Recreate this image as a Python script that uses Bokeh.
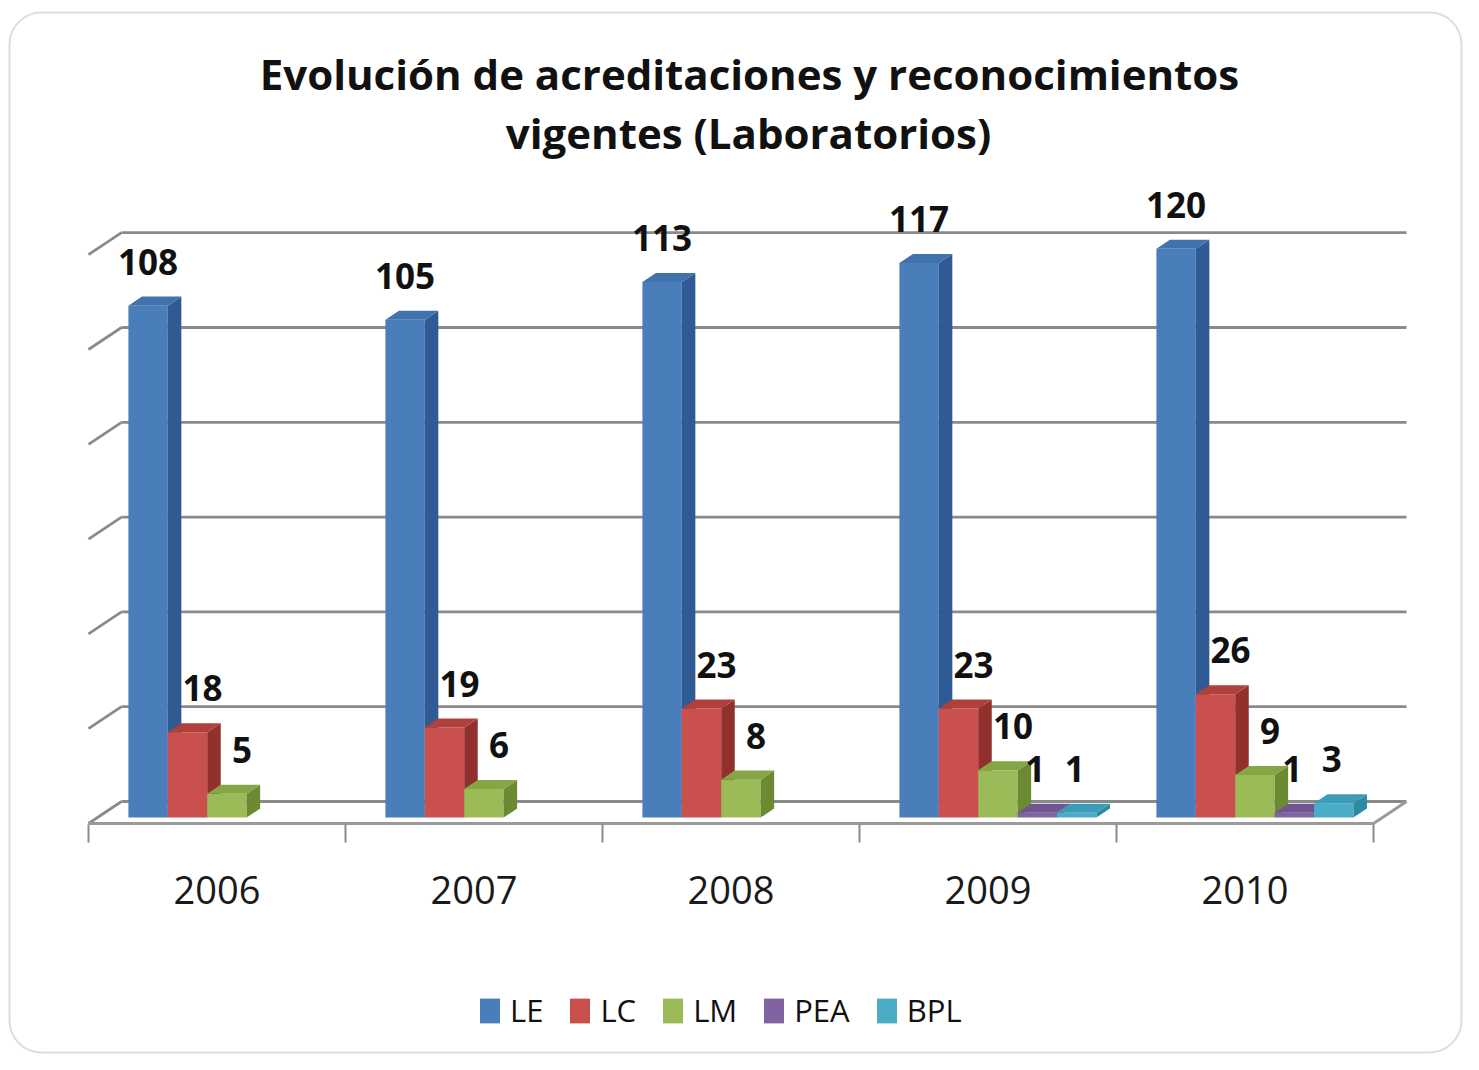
from bokeh.plotting import figure
from bokeh.models import ColumnDataSource, Range1d, Label, Legend, LegendItem, BoxAnnotation
from bokeh.core.properties import value
from bokeh.embed import file_html
from bokeh.resources import INLINE

# ---------------- data ----------------
years = ["2006", "2007", "2008", "2009", "2010"]
series_names = ["LE", "LC", "LM", "PEA", "BPL"]
le_values = [108, 105, 113, 117, 120]
lc_values = [18, 19, 23, 23, 26]
lm_values = [5, 6, 8, 10, 9]
pea_values = [0, 0, 0, 1, 1]
bpl_values = [0, 0, 0, 1, 3]
grid_values = [0, 20, 40, 60, 80, 100, 120]
title_lines = ["Evolución de acreditaciones y reconocimientos",
               "vigentes (Laboratorios)"]

all_values = [le_values, lc_values, lm_values, pea_values, bpl_values]

# ---------------- style ----------------
front_colors = ["#4a7ebb", "#c9504c", "#9bbb59", "#8064a2", "#4bacc6"]
side_colors = ["#2f5a94", "#92302d", "#6c8a32", "#5a4378", "#2c8aa3"]
top_colors = ["#4272ae", "#b0403c", "#86a646", "#6f5592", "#3c9bb6"]
label_dx_px = [0, 15, 15, -2, -2]
grid_color = "#8a8a8a"
FONT = "Open Sans"

W, H = 1463, 1054
PX_CAT = 257.0          # px per category on the floor front edge
PX_VAL = 4.74           # px per value unit
X0_PX = 88              # floor front-left corner (px)
Y0_PX = 823             # floor front edge (px from top)
DXF = 33.0 / PX_CAT     # floor depth offset (x, data units)
DYF = 22.0 / PX_VAL     # floor depth offset (y, data units)
D0, D1 = 0.27, 0.68     # bar front/back depth fractions
BAR_OFF = 31.0 / PX_CAT
BAR_W = 39.4 / PX_CAT


def px_x(px):
    return (px - X0_PX) / PX_CAT


def px_y(py):
    return (Y0_PX - py) / PX_VAL


def proj(x, v, d):
    return x + d * DXF, v + d * DYF


p = figure(width=W, height=H, output_backend="svg", toolbar_location=None,
           x_range=Range1d(px_x(0), px_x(W)), y_range=Range1d(px_y(H), px_y(0)),
           x_axis_location=None, y_axis_location=None,
           min_border=0, min_border_left=0, min_border_right=0,
           min_border_top=0, min_border_bottom=0)
p.grid.visible = False
p.outline_line_color = None
p.background_fill_color = "white"
p.border_fill_color = "white"

n_cat = len(years)

# outer rounded frame
p.add_layout(BoxAnnotation(left=px_x(9), right=px_x(W - 2), top=px_y(12), bottom=px_y(H - 2),
                           fill_alpha=0, line_color="#8f8f8f", line_width=2,
                           border_radius=32))

# back wall gridlines and left wall gridlines
bw_xs, bw_ys, lw_xs, lw_ys = [], [], [], []
for g in grid_values:
    xa, ya = proj(0, g, 1)
    xb, yb = proj(n_cat, g, 1)
    bw_xs.append([xa, xb]); bw_ys.append([ya, yb])
    xc, yc = proj(0, g, 0)
    lw_xs.append([xc, xa]); lw_ys.append([yc, ya])
p.multi_line(bw_xs, bw_ys, line_color=grid_color, line_width=2.8)
p.multi_line(lw_xs, lw_ys, line_color=grid_color, line_width=2.8)

# floor front + right edge
fx = [proj(0, 0, 0)[0], proj(n_cat, 0, 0)[0], proj(n_cat, 0, 1)[0]]
fy = [proj(0, 0, 0)[1], proj(n_cat, 0, 0)[1], proj(n_cat, 0, 1)[1]]
p.line(fx, fy, line_color="#9a9a9a", line_width=3)

# category tick marks
tick_len = 19.0 / PX_VAL
p.segment(x0=list(range(n_cat + 1)), y0=[-1.0 / PX_VAL] * (n_cat + 1),
          x1=list(range(n_cat + 1)), y1=[-tick_len] * (n_cat + 1),
          line_color="#8a8a8a", line_width=2)

# bars (drawn left to right so later bars hide earlier side faces)
front_renderers = []
lab_x, lab_y, lab_t = [], [], []
for j, vals in enumerate(all_values):
    f_xs, f_ys, s_xs, s_ys, s_col = [], [], [], [], []
    for i, v in enumerate(vals):
        if v <= 0:
            continue
        x0 = i + BAR_OFF + j * BAR_W
        x1 = x0 + BAR_W
        pts = [proj(x0, 0, D0), proj(x1, 0, D0), proj(x1, v, D0), proj(x0, v, D0)]
        f_xs.append([q[0] for q in pts]); f_ys.append([q[1] for q in pts])
        side = [proj(x1, 0, D0), proj(x1, 0, D1), proj(x1, v, D1), proj(x1, v, D0)]
        s_xs.append([q[0] for q in side]); s_ys.append([q[1] for q in side]); s_col.append(side_colors[j])
        top = [proj(x0, v, D0), proj(x1, v, D0), proj(x1, v, D1), proj(x0, v, D1)]
        s_xs.append([q[0] for q in top]); s_ys.append([q[1] for q in top]); s_col.append(top_colors[j])
        cx, cy = proj(x0 + BAR_W / 2, v, D0)
        lab_x.append(cx + label_dx_px[j] / PX_CAT)
        lab_y.append(cy + 44.0 / PX_VAL)
        lab_t.append(str(v))
    r = p.patches(xs=f_xs, ys=f_ys, fill_color=front_colors[j], line_color=None)
    front_renderers.append(r)
    p.patches(source=ColumnDataSource(dict(xs=s_xs, ys=s_ys, c=s_col)), xs="xs", ys="ys",
              fill_color="c", line_color=None)

# data labels
p.text(x=lab_x, y=lab_y, text=lab_t, text_align="center", text_baseline="alphabetic",
       text_font=value(FONT), text_font_style="bold", text_font_size="35px", text_color="#111111")

# category labels
p.text(x=[i + 0.5 for i in range(n_cat)], y=[px_y(889)] * n_cat, text=years,
       text_align="center", text_baseline="alphabetic", text_font=value(FONT),
       text_font_size="38px", text_color="#1a1a1a")

# title
p.add_layout(Label(x=px_x(749), y=px_y(73), text=title_lines[0], text_align="center",
                   text_baseline="alphabetic", text_font=FONT, text_font_style="bold",
                   text_font_size="42px", text_color="#111111"))
p.add_layout(Label(x=px_x(748), y=px_y(132), text=title_lines[1], text_align="center",
                   text_baseline="alphabetic", text_font=FONT, text_font_style="bold",
                   text_font_size="42px", text_color="#111111"))

# legend
legend = Legend(items=[LegendItem(label=n, renderers=[r]) for n, r in zip(series_names, front_renderers)],
                location=(477, 23), orientation="horizontal", glyph_width=25, glyph_height=31,
                label_standoff=8, spacing=24, padding=0, margin=0, border_line_color=None,
                background_fill_alpha=0, label_text_font=FONT, label_text_font_size="31px",
                label_text_color="#111111")
p.add_layout(legend)

open("out.html", "w").write(file_html(p, INLINE))
